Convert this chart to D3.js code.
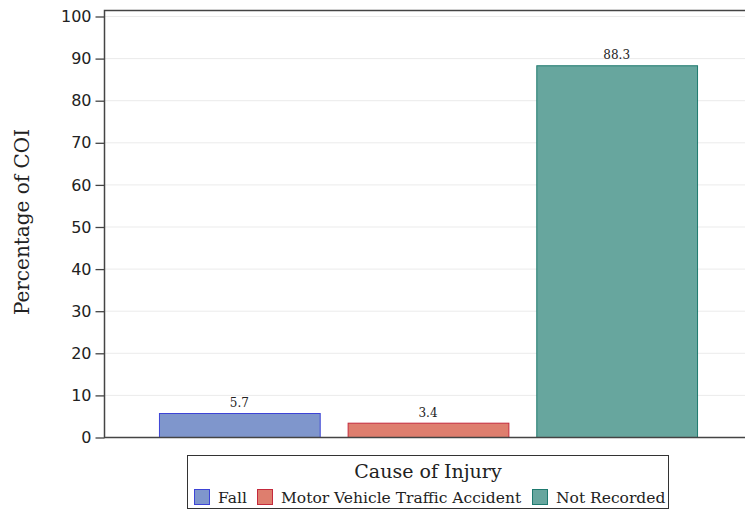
<!DOCTYPE html>
<html>
<head>
<meta charset="utf-8">
<script src="https://cdn.jsdelivr.net/npm/d3@7"></script>
<style>
  body { margin: 0; background: #fff; }
  svg text { fill: #222; }
</style>
</head>
<body>
<svg id="chart" width="745" height="510"></svg>
<script>
"use strict"
var causes = ["Fall", "Motor Vehicle Traffic Accident", "Not Recorded"];
var percents = [5.7, 3.4, 88.3];
var yTicks = [0, 10, 20, 30, 40, 50, 60, 70, 80, 90, 100];
var fills = ["#7f96cc", "#de7e6e", "#67a69e"];
var strokes = ["#3d44d6", "#c42a3c", "#1f7a6f"];

var svg = d3.select("svg#chart"),
    plotLeft = 104, plotRight = 760, plotTop = 10, plotBottom = 437;

var y = d3.scaleLinear().domain([0, 100]).range([plotBottom, 16]);
var x = d3.scaleBand().domain(causes).range([145, 711])
    .paddingInner(0.148).paddingOuter(0.074);

// grid
svg.append("g").selectAll("line")
    .data(yTicks.filter(function(d){ return d > 0; }))
  .enter().append("line")
    .attr("x1", plotLeft).attr("x2", plotRight)
    .attr("y1", function(d){ return y(d) + 0.5; })
    .attr("y2", function(d){ return y(d) + 0.5; })
    .attr("stroke", "#ebebeb");

// bars
svg.append("g").selectAll("rect")
    .data(percents)
  .enter().append("rect")
    .attr("x", function(d, i){ return x(causes[i]) + 0.5; })
    .attr("y", function(d){ return y(d) + 0.5; })
    .attr("width", x.bandwidth())
    .attr("height", function(d){ return plotBottom - y(d); })
    .attr("fill", function(d, i){ return fills[i]; })
    .attr("stroke", function(d, i){ return strokes[i]; });

svg.append("g").selectAll("text")
    .data(percents)
  .enter().append("text")
    .attr("x", function(d, i){ return x(causes[i]) + x.bandwidth() / 2; })
    .attr("y", function(d){ return y(d) - 6; })
    .attr("text-anchor", "middle")
    .style("font", "12px 'DejaVu Serif'")
    .text(function(d){ return d.toFixed(1); });

// frame + axis
var yAxis = d3.axisLeft(y).tickValues(yTicks).tickSize(9).tickSizeOuter(0);
var ga = svg.append("g").attr("transform", "translate(" + (plotLeft + 0.5) + ",0.5)").call(yAxis);
ga.select(".domain").remove();
ga.selectAll(".tick line").attr("stroke", "#444").attr("stroke-width", 1.3);
ga.selectAll(".tick text").style("font", "16px 'DejaVu Sans'").attr("fill", "#333").attr("x", -13);

svg.append("path")
    .attr("d", "M" + plotRight + "," + (plotTop + 0.5) + "H" + (plotLeft + 0.5) + "V" + (plotBottom + 0.5) + "H" + plotRight)
    .attr("fill", "none").attr("stroke", "#444").attr("stroke-width", 1.5);

svg.append("text")
    .attr("transform", "translate(29,222) rotate(-90)")
    .attr("text-anchor", "middle")
    .style("font", "20px 'DejaVu Serif'")
    .text("Percentage of COI");

// legend
var lg = svg.append("g");
lg.append("rect").attr("x", 187.5).attr("y", 455.5).attr("width", 481).attr("height", 53)
    .attr("fill", "#fff").attr("stroke", "#333");
lg.append("text").attr("x", 428).attr("y", 478).attr("text-anchor", "middle")
    .style("font", "19px 'DejaVu Serif'").text("Cause of Injury");
var itemX = [194, 257, 532];
causes.forEach(function(c, i){
  lg.append("rect").attr("x", itemX[i] + 0.5).attr("y", 489.5).attr("width", 15).attr("height", 15)
      .attr("fill", fills[i]).attr("stroke", strokes[i]);
  lg.append("text").attr("x", itemX[i] + 24).attr("y", 503)
      .style("font", "15.5px 'DejaVu Serif'").text(c);
});
</script>
</body>
</html>
